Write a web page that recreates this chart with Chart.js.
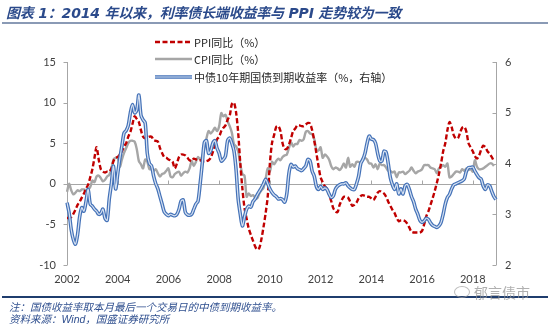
<!DOCTYPE html>
<html>
<head>
<meta charset="utf-8">
<script src="https://cdn.jsdelivr.net/npm/chart.js@4.4.1/dist/chart.umd.min.js"></script>
<style>
  body { margin: 0; background: #fff; }
  #page { position: relative; width: 550px; height: 324px; overflow: hidden; background: #fff; }
  #chart { position: absolute; left: 0; top: 0; }
  .title { position: absolute; left: 6px; top: 2px; font: italic bold 14px "DejaVu Sans", "Noto Sans CJK SC", sans-serif; color: #2b4a8b; white-space: nowrap; letter-spacing: -0.2px; }
  .rule-top { position: absolute; left: 2px; right: 2px; top: 22px; height: 2px; background: #8a9ab5; }
  .rule-bottom { position: absolute; left: 2px; right: 2px; top: 296px; height: 2px; background: #1f3d6e; }
  .note { position: absolute; left: 9px; font: italic 10.5px "Liberation Sans", "Noto Sans CJK SC", sans-serif; color: #2f4f8f; white-space: nowrap; }
  .legend { position: absolute; left: 155px; font: 11px "Noto Sans CJK SC", sans-serif; color: #262626; white-space: nowrap; }
  .legend svg { position: absolute; left: 0; top: 0; }
  .legend span { position: absolute; left: 39px; top: -1px; }
  .mark { position: absolute; left: 474px; top: 282px; font: 14px "Noto Sans CJK SC", sans-serif; color: rgba(150,150,150,0.75); white-space: nowrap; }
  .icon { position: absolute; left: 454px; top: 286px; width: 14px; height: 10px; border: 1px solid rgba(160,160,160,0.7); border-radius: 50%; }
</style>
</head>
<body>
<div id="page">
  <canvas id="chart" width="550" height="324"></canvas>
  <div class="title">图表 1：2014 年以来，利率债长端收益率与 PPI 走势较为一致</div>
  <div class="rule-top"></div>

  <div class="legend" style="top:35px">
    <svg width="38" height="14"><line x1="0" y1="7" x2="37" y2="7" stroke="#c00000" stroke-width="2.5" stroke-dasharray="5 2.5"/></svg>
    <span>PPI同比（%）</span>
  </div>
  <div class="legend" style="top:52px">
    <svg width="38" height="14"><line x1="0" y1="7" x2="37" y2="7" stroke="#a6a6a6" stroke-width="2.5"/></svg>
    <span>CPI同比（%）</span>
  </div>
  <div class="legend" style="top:70px">
    <svg width="38" height="14"><line x1="0" y1="7" x2="37" y2="7" stroke="#4472b8" stroke-width="3.5"/><line x1="0" y1="7" x2="37" y2="7" stroke="#d6e1f1" stroke-width="1.2"/></svg>
    <span>中债10年期国债到期收益率（%，右轴）</span>
  </div>

  <div class="rule-bottom"></div>
  <div class="note" style="top:299px">注：国债收益率取本月最后一个交易日的中债到期收益率。</div>
  <div class="note" style="top:311px">资料来源：Wind，国盛证券研究所</div>
  <div class="icon"></div>
  <div class="mark">郁言债市</div>
</div>

<script>
// months Jan 2002 .. Dec 2018
const firstYear = 2002;
const lastYear = 2018;
const months = [];
for (let y = firstYear; y <= lastYear; y++) {
  for (let m = 1; m <= 12; m++) months.push(y + '-' + String(m).padStart(2, '0'));
}

// PPI YoY, %, Jan 2002 - Nov 2018
const ppi = [
  -4.2, -4.2, -4.1, -3.7, -3.2, -2.6, -2.2, -1.7, -1.2, -0.6, -0.1, 0.8,
  1.8, 3.2, 4.5, 3.0, 1.8, 1.5, 1.4, 1.5, 1.5, 1.9, 2.8, 3.2,
  3.3, 3.6, 4.0, 4.6, 5.0, 5.8, 6.4, 7.4, 8.3, 8.0, 7.6, 6.6,
  5.8, 5.6, 5.7, 5.8, 5.8, 5.4, 5.3, 5.2, 4.4, 3.8, 3.3, 3.2,
  3.0, 2.9, 2.7, 1.9, 2.5, 3.3, 3.6, 3.6, 3.5, 3.2, 2.9, 2.8,
  3.1, 3.0, 2.9, 2.9, 2.8, 2.7, 2.8, 2.9, 3.2, 3.9, 4.7, 5.5,
  5.8, 6.5, 6.9, 7.2, 7.9, 8.4, 9.8, 10.0, 8.8, 6.3, 2.5, -0.6,
  -3.0, -4.3, -5.5, -6.3, -7.0, -7.7, -8.1, -7.9, -6.8, -5.3, -3.6, -1.5,
  2.5, 5.0, 6.0, 7.0, 7.1, 6.5, 5.0, 4.3, 4.3, 4.8, 5.6, 6.5,
  6.8, 7.2, 7.2, 7.1, 7.1, 7.3, 7.5, 7.4, 6.6, 5.3, 3.8, 2.2,
  0.8, 0.2, -0.3, -0.6, -1.3, -2.1, -3.0, -3.4, -3.5, -2.6, -2.0, -1.6,
  -1.6, -1.7, -2.2, -2.7, -2.6, -2.3, -1.8, -1.5, -1.4, -1.5, -1.6, -1.6,
  -1.8, -2.0, -1.6, -1.1, -0.9, -1.0, -1.2, -1.6, -2.2, -2.7, -3.2, -3.6,
  -4.2, -4.6, -4.5, -4.5, -4.6, -4.9, -5.4, -5.9, -6.0, -6.0, -6.0, -6.0,
  -5.8, -5.0, -4.0, -3.4, -2.6, -1.8, -0.9, 0.1, 1.2, 2.5, 4.0, 5.0,
  6.6, 7.6, 7.0, 6.0, 5.6, 5.6, 6.3, 6.9, 7.0, 6.4, 5.0, 4.5,
  4.0, 3.4, 3.1, 3.5, 4.2, 4.7, 4.5, 4.0, 3.7, 3.3, 2.8
];

// CPI YoY, %, Jan 2002 - Nov 2018
const cpi = [
  -1.0, 0.0, -0.8, -1.3, -1.1, -0.8, -0.9, -0.7, -0.7, -0.8, -0.7, -0.4,
  0.4, 0.2, 0.9, 1.0, 0.7, 0.3, 0.5, 0.9, 1.1, 1.8, 3.0, 3.2,
  3.2, 2.1, 3.0, 3.8, 4.4, 5.0, 5.3, 5.3, 5.2, 4.3, 2.8, 2.4,
  1.9, 3.0, 2.7, 1.8, 1.8, 1.6, 1.8, 1.3, 0.9, 1.2, 1.3, 1.6,
  1.9, 0.9, 0.8, 1.2, 1.4, 1.5, 1.0, 1.3, 1.5, 1.4, 1.9, 2.8,
  2.2, 2.7, 3.3, 3.0, 3.4, 4.4, 5.6, 6.5, 6.2, 6.5, 6.9, 6.5,
  7.1, 8.7, 8.3, 8.5, 7.7, 7.1, 6.3, 4.9, 4.6, 4.0, 2.4, 1.2,
  1.0, -1.6, -1.2, -1.5, -1.4, -1.7, -1.8, -1.2, -0.8, -0.5, 0.6, 1.9,
  1.5, 2.7, 2.4, 2.8, 3.1, 2.9, 3.3, 3.5, 3.6, 4.4, 5.1, 4.6,
  4.9, 4.9, 5.4, 5.3, 5.5, 6.4, 6.5, 6.2, 6.1, 5.5, 4.2, 4.1,
  4.5, 3.2, 3.6, 3.4, 3.0, 2.2, 1.8, 2.0, 1.9, 1.7, 2.0, 2.5,
  2.0, 3.2, 2.1, 2.4, 2.1, 2.7, 2.7, 2.6, 3.1, 3.2, 3.0, 2.5,
  2.5, 2.0, 2.4, 1.8, 2.5, 2.3, 2.3, 2.0, 1.6, 1.6, 1.4, 1.5,
  0.8, 1.4, 1.4, 1.5, 1.2, 1.4, 1.6, 2.0, 1.6, 1.3, 1.5, 1.6,
  1.8, 2.3, 2.3, 2.3, 2.0, 1.9, 1.8, 1.3, 1.9, 2.1, 2.3, 2.1,
  2.5, 0.8, 0.9, 1.2, 1.5, 1.5, 1.4, 1.8, 1.6, 1.9, 1.7, 1.8,
  1.5, 2.9, 2.1, 1.8, 1.8, 1.9, 2.1, 2.3, 2.5, 2.5, 2.2
];

// 10Y government bond yield (ChinaBond), %, Jan 2002 - Dec 2018, right axis
const cgb10y = [
  3.23, 3.03, 2.70, 2.50, 2.41, 2.60, 2.95, 3.13, 3.06, 3.25, 3.49, 3.20,
  3.16, 3.10, 3.06, 3.00, 3.02, 3.10, 2.92, 2.88, 3.30, 3.60, 3.95, 3.50,
  3.80, 4.10, 4.35, 4.60, 4.65, 4.75, 5.00, 5.16, 5.00, 5.05, 5.35, 4.95,
  4.86, 4.80, 4.20, 4.00, 3.95, 3.75, 3.60, 3.50, 3.35, 3.20, 3.05, 3.00,
  2.97, 3.00, 2.98, 2.97, 3.00, 3.10, 3.26, 3.28, 3.04, 2.99, 2.98, 3.00,
  3.10, 3.20, 3.26, 3.60, 4.00, 4.41, 4.45, 4.20, 4.25, 4.40, 4.45, 4.30,
  4.20, 4.05, 4.08, 4.15, 4.45, 4.50, 4.40, 4.25, 3.88, 3.30, 3.00, 2.77,
  2.95, 3.10, 3.16, 3.14, 3.25, 3.30, 3.38, 3.45, 3.52, 3.60, 3.69, 3.60,
  3.50, 3.43, 3.38, 3.35, 3.30, 3.31, 3.29, 3.24, 3.40, 3.80, 3.98, 3.93,
  3.95, 3.90, 3.88, 3.86, 3.90, 3.95, 4.08, 4.05, 3.85, 3.75, 3.55, 3.49,
  3.55, 3.49, 3.52, 3.49, 3.40, 3.33, 3.36, 3.49, 3.55, 3.58, 3.60, 3.60,
  3.62, 3.56, 3.52, 3.49, 3.49, 3.60, 3.75, 4.00, 4.08, 4.20, 4.40, 4.54,
  4.48, 4.47, 4.40, 4.20, 4.05, 4.05, 4.24, 4.22, 4.00, 3.72, 3.58, 3.49,
  3.60, 3.40, 3.50, 3.40, 3.56, 3.59, 3.49, 3.35, 3.25, 3.10, 3.00, 2.88,
  2.84, 2.87, 2.92, 2.90, 2.83, 2.78, 2.76, 2.74, 2.77, 2.84, 3.00, 3.20,
  3.33, 3.39, 3.50, 3.58, 3.60, 3.62, 3.64, 3.66, 3.70, 3.85, 3.92, 3.92,
  3.93, 3.85, 3.78, 3.72, 3.69, 3.55, 3.49, 3.58, 3.56, 3.45, 3.35, 3.29
];

const leftTicks = [-10, -5, 0, 5, 10, 15];
const rightTicks = [2, 3, 4, 5, 6];
const labelEvery = 24; // a year label every two years

const tickFont = { family: 'Lato', size: 11 };
const axisGray = '#a6a6a6';

// axis lines, zero line and year marks, drawn under the series
const axesPlugin = {
  id: 'axesLines',
  beforeDatasetsDraw(chart) {
    const { ctx, chartArea: a, scales } = chart;
    const y0 = Math.round(scales.y.getPixelForValue(0)) + 0.5;
    const lx = Math.round(a.left) + 0.5;
    const rx = Math.round(a.right) + 0.5;
    ctx.save();
    ctx.strokeStyle = axisGray;
    ctx.lineWidth = 1;
    ctx.beginPath();
    ctx.moveTo(lx, a.top); ctx.lineTo(lx, a.bottom);
    leftTicks.forEach(v => {
      const p = Math.round(scales.y.getPixelForValue(v)) + 0.5;
      ctx.moveTo(lx - 4, p); ctx.lineTo(lx, p);
    });
    ctx.moveTo(rx, a.top); ctx.lineTo(rx, a.bottom);
    rightTicks.forEach(v => {
      const p = Math.round(scales.y2.getPixelForValue(v)) + 0.5;
      ctx.moveTo(rx - 4, p); ctx.lineTo(rx, p);
    });
    ctx.moveTo(a.left, y0); ctx.lineTo(a.right, y0);
    months.forEach((m, i) => {
      if (i % labelEvery === 0 && i > 0) {
        const x = Math.round(scales.x.getPixelForValue(i)) + 0.5;
        ctx.moveTo(x, y0); ctx.lineTo(x, y0 - 4);
      }
    });
    ctx.stroke();
    ctx.restore();
  }
};

new Chart(document.getElementById('chart'), {
  type: 'line',
  data: {
    labels: months,
    datasets: [
      {
        label: '中债10年期国债到期收益率（%，右轴）',
        data: cgb10y,
        yAxisID: 'y2',
        borderColor: '#d6e1f1',
        borderWidth: 1.2,
        order: 0
      },
      {
        label: 'yield outline',
        data: cgb10y,
        yAxisID: 'y2',
        borderColor: '#4472b8',
        borderWidth: 3.6,
        order: 1
      },
      {
        label: 'PPI同比（%）',
        data: ppi,
        yAxisID: 'y',
        borderColor: '#c00000',
        borderWidth: 2.4,
        borderDash: [5, 2.5],
        order: 2
      },
      {
        label: 'CPI同比（%）',
        data: cpi,
        yAxisID: 'y',
        borderColor: axisGray,
        borderWidth: 2.4,
        order: 3
      }
    ]
  },
  options: {
    responsive: false,
    animation: false,
    events: [],
    layout: { padding: { top: 62, left: 0, right: 0, bottom: 0 } },
    elements: {
      point: { radius: 0 },
      line: { tension: 0.3, fill: false }
    },
    plugins: {
      legend: { display: false },
      tooltip: { enabled: false }
    },
    scales: {
      x: {
        type: 'category',
        offset: false,
        grid: { display: false, drawTicks: false },
        border: { display: false },
        ticks: {
          autoSkip: false,
          maxRotation: 0,
          minRotation: 0,
          padding: 8,
          color: '#404040',
          font: tickFont,
          callback: (v, i) => (i % labelEvery === 0 ? months[i].slice(0, 4) : null)
        },
        afterFit(s) { s.height = 59; }
      },
      y: {
        position: 'left',
        min: -10,
        max: 15,
        grid: { display: false, drawTicks: false },
        border: { display: false },
        ticks: { stepSize: 5, padding: 11, color: '#404040', font: tickFont },
        afterFit(s) { s.width = 67; }
      },
      y2: {
        position: 'right',
        min: 2,
        max: 6,
        grid: { display: false, drawTicks: false },
        border: { display: false },
        ticks: { stepSize: 1, padding: 9, color: '#404040', font: tickFont },
        afterFit(s) { s.width = 54; }
      }
    }
  },
  plugins: [axesPlugin]
});
</script>
</body>
</html>
